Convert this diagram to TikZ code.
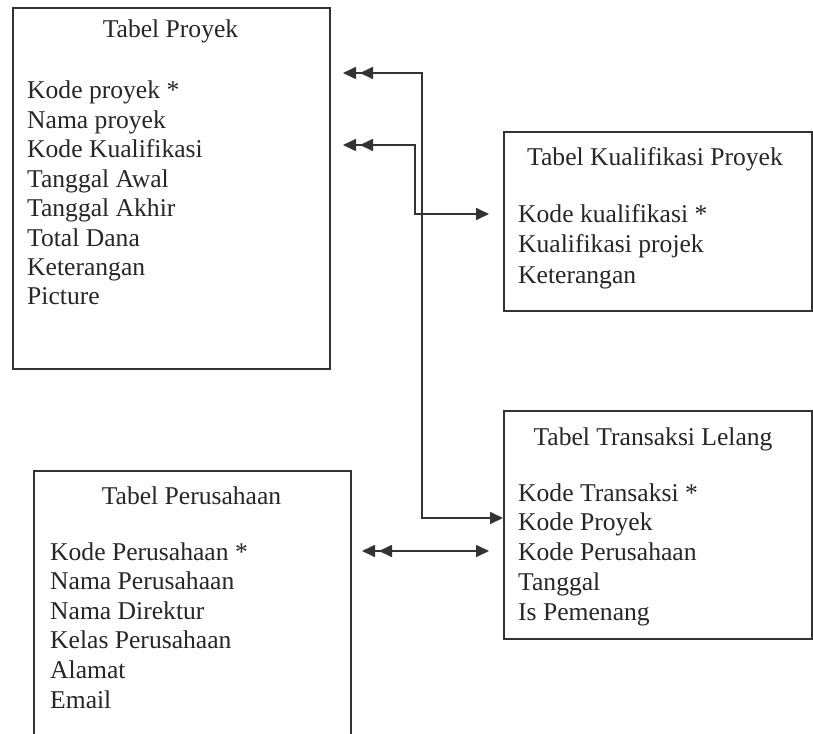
\documentclass[tikz,border=0pt]{standalone}
\usepackage{fontspec}
\setmainfont{Liberation Serif}
\usetikzlibrary{arrows.meta}
\begin{document}
\begin{tikzpicture}[x=1pt,y=-1pt,
  box/.style={draw=black!80, line width=1.7pt, anchor=north west, inner sep=0pt},
  txt/.style={anchor=base west, inner sep=0pt, font=\fontsize{25.6}{29}\selectfont, text=black!85},
  ttl/.style={anchor=base, inner sep=0pt, font=\fontsize{25.6}{29}\selectfont, text=black!85},
  conn/.style={draw=black!80, line width=1.7pt},
  dbl/.tip={Triangle[length=13pt,width=12pt,sep=4pt] Triangle[length=13pt,width=12pt]},
  sgl/.tip={Triangle[length=13pt,width=12pt]}]
\useasboundingbox (0,0) rectangle (813,733);
\clip (0,0) rectangle (813,733);
\fill[white] (0,0) rectangle (813,733);

% boxes
\node[box, minimum width=317pt, minimum height=361pt] (proyek) at (12,7) {};
\node[box, minimum width=308pt, minimum height=179pt] (kual) at (503,131) {};
\node[box, minimum width=308pt, minimum height=228pt] (trans) at (503,410) {};
\node[box, minimum width=317pt, minimum height=300pt] (perus) at (33,470) {};

% Tabel Proyek
\node[ttl] (tp) at (170.5,38) {Tabel Proyek};
\foreach \t [count=\i from 0] in {Kode proyek *,Nama proyek,Kode Kualifikasi,Tanggal Awal,Tanggal Akhir,Total Dana,Keterangan,Picture}
  \node[txt] (tp\i) at (27,99+29.4*\i) {\t};

% Tabel Kualifikasi Proyek
\node[ttl] (tk) at (655,165) {Tabel Kualifikasi Proyek};
\foreach \t [count=\i from 0] in {Kode kualifikasi *,Kualifikasi projek,Keterangan}
  \node[txt] (tk\i) at (518,222+30.5*\i) {\t};

% Tabel Transaksi Lelang
\node[ttl] (tt) at (653,445) {Tabel Transaksi Lelang};
\foreach \t [count=\i from 0] in {Kode Transaksi *,Kode Proyek,Kode Perusahaan,Tanggal,Is Pemenang}
  \node[txt] (tt\i) at (518,501+29.8*\i) {\t};

% Tabel Perusahaan
\node[ttl] (tpr) at (191.5,504) {Tabel Perusahaan};
\foreach \t [count=\i from 0] in {Kode Perusahaan *,Nama Perusahaan,Nama Direktur,Kelas Perusahaan,Alamat,Email}
  \node[txt] (tpr\i) at (50,560+29.6*\i) {\t};

% connectors
\coordinate (a1s) at (343,73);
\coordinate (a1c) at (422,73);
\coordinate (a1d) at (422,518);
\coordinate (a1e) at (503,518);
\draw[conn, dbl-sgl] (a1s) -- (a1c) -- (a1d) -- (a1e);

\coordinate (a2s) at (343,145);
\coordinate (a2c) at (415,145);
\coordinate (a2d) at (415,214);
\coordinate (a2e) at (489,214);
\draw[conn, dbl-sgl] (a2s) -- (a2c) -- (a2d) -- (a2e);

\coordinate (a3s) at (362,551);
\coordinate (a3e) at (489,551);
\draw[conn, dbl-sgl] (a3s) -- (a3e);
\end{tikzpicture}
\end{document}
